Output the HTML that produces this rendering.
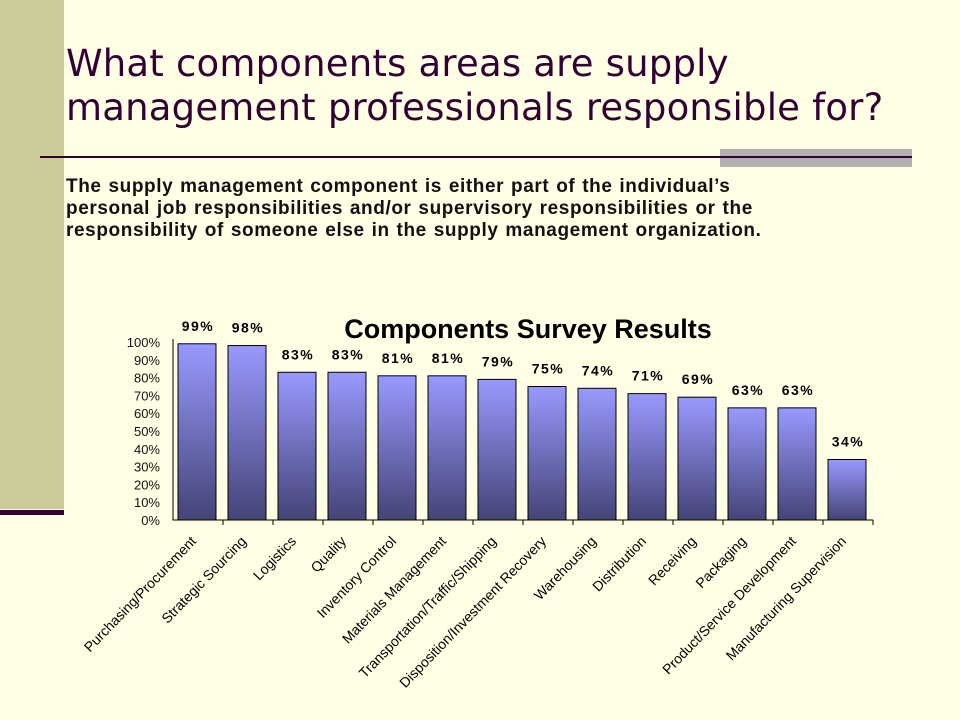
<!DOCTYPE html>
<html><head><meta charset="utf-8"><style>
body{margin:0;width:960px;height:720px;background:#ffffe5;overflow:hidden;position:relative;font-family:"Liberation Sans",sans-serif}
.a{position:absolute}
</style></head><body>
<div class="a" style="left:0;top:0;width:64px;height:509px;background:#cccc99"></div>
<div class="a" style="left:0;top:510px;width:64px;height:5px;background:#330033"></div>
<div class="a" style="left:66px;top:42px;font-size:37px;line-height:44px;color:#330033;font-family:'DejaVu Sans',sans-serif;letter-spacing:0.2px">What components areas are supply<br>management professionals responsible for?</div>
<div class="a" style="left:40px;top:156px;width:872px;height:2px;background:#330033"></div>
<div class="a" style="left:720px;top:149px;width:192px;height:18px;background:#b0b0b0"></div>
<div class="a" style="left:720px;top:156px;width:192px;height:2px;background:#330033"></div>
<div class="a" style="left:66px;top:176px;font-size:19px;line-height:22px;font-weight:bold;color:#111;letter-spacing:0.6px;word-spacing:1px;white-space:nowrap">The supply management component is either part of the individual’s<br>personal job responsibilities and/or supervisory responsibilities or the<br>responsibility of someone else in the supply management organization.</div>
<svg class="a" style="left:0;top:0" width="960" height="720">
<defs><linearGradient id="g" x1="0" y1="0" x2="0" y2="1"><stop offset="0" stop-color="#9999ff"/><stop offset="1" stop-color="#444477"/></linearGradient></defs>
<text x="528" y="338" text-anchor="middle" font-size="27" font-weight="bold" font-family="Liberation Sans">Components Survey Results</text>
<g id="plot"></g>
</svg>
<script>
const categories=["Purchasing/Procurement","Strategic Sourcing","Logistics","Quality","Inventory Control","Materials Management","Transportation/Traffic/Shipping","Disposition/Investment Recovery","Warehousing","Distribution","Receiving","Packaging","Product/Service Development","Manufacturing Supervision"];
const values=[99,98,83,83,81,81,79,75,74,71,69,63,63,34];
const yTicks=[0,10,20,30,40,50,60,70,80,90,100];
const NS="http://www.w3.org/2000/svg";
const g=document.getElementById('plot');
const x0=173,step=50,y0=520,yTop=342;
const y=v=>y0-(y0-yTop)*v/100;
const xc=i=>x0+step*i;
function mk(t,a,parent){const e=document.createElementNS(NS,t);for(const k in a)e.setAttribute(k,a[k]);(parent||g).appendChild(e);return e;}
yTicks.forEach(t=>{const e=mk('text',{x:x0-13,y:y(t)+5,'text-anchor':'end','font-size':13,'font-family':'Liberation Sans',fill:'#111'});


e.textContent=t+'%';});
const ax=mk('path',{d:`M${x0} ${yTop-3}V${y0}H${xc(categories.length)}`,stroke:'#000',fill:'none','stroke-width':1});


categories.forEach((c,i)=>{
 const tk=mk('line',{x1:xc(i+1),x2:xc(i+1),y1:y0,y2:y0+5,stroke:'#000'});
 
 
 const b=mk('rect',{x:xc(i)+5,y:y(values[i]),width:38,height:y0-y(values[i]),fill:'url(#g)',stroke:'#000','stroke-width':1});
 
 
 const l=mk('text',{x:xc(i)+25,y:y(values[i])-13,'text-anchor':'middle','font-size':14,'font-weight':'bold','letter-spacing':'1.5','font-family':'Liberation Sans'});
 
 
 l.textContent=values[i]+'%';
 const cx=xc(i)+24,cy=y0+22;
 const t=mk('text',{x:cx,y:cy,'text-anchor':'end','font-size':14,'font-family':'Liberation Sans',transform:`rotate(-46 ${cx} ${cy})`});
 
 
 t.textContent=c;
});
</script>
</body></html>
